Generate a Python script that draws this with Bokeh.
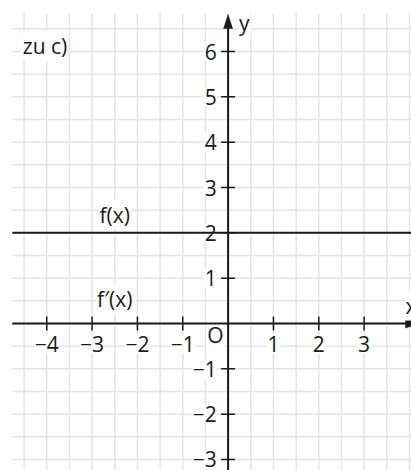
import numpy as np
from bokeh.plotting import figure
from bokeh.models import Range1d
from bokeh.core.properties import value
from bokeh.embed import file_html
from bokeh.resources import INLINE

# --- values shown in the chart ---
x_ticks = [-4, -3, -2, -1, 1, 2, 3]
y_ticks = [-3, -2, -1, 1, 2, 3, 4, 5, 6]
f_value = 2        # f(x) = 2 (constant)
f_prime_value = 0  # f'(x) = 0
f_label = "f(x)"
f_prime_label = "f\u2032(x)"
title_text = "zu c)"

# --- view extents (data units) ---
X0, X1 = -5.02, 4.045
Y0, Y1 = -3.243, 7.126
UNIT_PX = 45.33          # pixels per unit
GRID_LEFT, GRID_TOP = -4.76, 6.84
FONT = value("Open Sans")
FS = "21px"
INK = "#1a1a1a"

def px(n):
    return n / UNIT_PX

def fmt(v):
    return str(v).replace("-", "\u2212")

p = figure(width=411, height=470, x_range=Range1d(X0, X1), y_range=Range1d(Y0, Y1),
           output_backend="svg", toolbar_location=None,
           x_axis_type=None, y_axis_type=None, min_border=0)
p.outline_line_color = None
p.background_fill_color = "white"
p.border_fill_color = "white"

# squared paper, half-unit spacing
gx = np.arange(-4.5, X1, 0.5)
gy = np.arange(-3.0, GRID_TOP, 0.5)
p.segment(x0=gx, y0=Y0, x1=gx, y1=GRID_TOP, line_color="#e4e4e4", line_width=1.5)
p.segment(x0=GRID_LEFT, y0=gy, x1=X1, y1=gy, line_color="#e4e4e4", line_width=1.5)

text_kw = dict(text_font=FONT, text_font_size=FS, text_color=INK,
               background_fill_color="white", padding=1)

# tick labels
p.text(x=x_ticks, y=-0.46, text=[fmt(v) for v in x_ticks],
       text_align="center", text_baseline="middle", **text_kw)
p.text(x=-0.23, y=y_ticks, text=[fmt(v) for v in y_ticks],
       text_align="right", text_baseline="middle", **text_kw)
p.text(x=[-0.28], y=[-0.26], text=["O"], text_align="center", text_baseline="middle", **text_kw)

# f(x) = 2
p.line(x=[GRID_LEFT, X1], y=[f_value, f_value], line_color=INK, line_width=2)

# axes
p.line(x=[GRID_LEFT, X1], y=[f_prime_value, f_prime_value], line_color=INK, line_width=2)
y_tip = 6.816
p.line(x=[0, 0], y=[Y0, y_tip - px(6)], line_color=INK, line_width=2)

# tick marks
p.segment(x0=x_ticks, y0=-px(7), x1=x_ticks, y1=px(7), line_color=INK, line_width=1.5)
p.segment(x0=-px(7), y0=y_ticks, x1=px(7), y1=y_ticks, line_color=INK, line_width=1.5)

# arrow heads
x_tip = X1 + px(8)
p.patch(x=[0, -px(4.5), px(4.5)], y=[y_tip, y_tip - px(14), y_tip - px(14)],
        fill_color=INK, line_color=INK, line_width=0.5)
p.patch(x=[x_tip, x_tip - px(14), x_tip - px(14)], y=[0, px(4.5), -px(4.5)],
        fill_color=INK, line_color=INK, line_width=0.5)

# axis names
p.text(x=[px(10)], y=[y_tip - px(8)], text=["y"], text_align="left", text_baseline="middle", **text_kw)
p.text(x=[X1 - px(7)], y=[px(18)], text=["x"], text_align="left", text_baseline="middle", **text_kw)

# curve labels and panel caption
p.text(x=[-2.5], y=[f_value + 0.4], text=[f_label], text_align="center", text_baseline="middle", **text_kw)
p.text(x=[-2.5], y=[f_prime_value + 0.55], text=[f_prime_label], text_align="center", text_baseline="middle", **text_kw)
p.text(x=[-4.55], y=[6.13], text=[title_text], text_align="left", text_baseline="middle", **text_kw)

open("out.html", "w").write(file_html(p, INLINE))
